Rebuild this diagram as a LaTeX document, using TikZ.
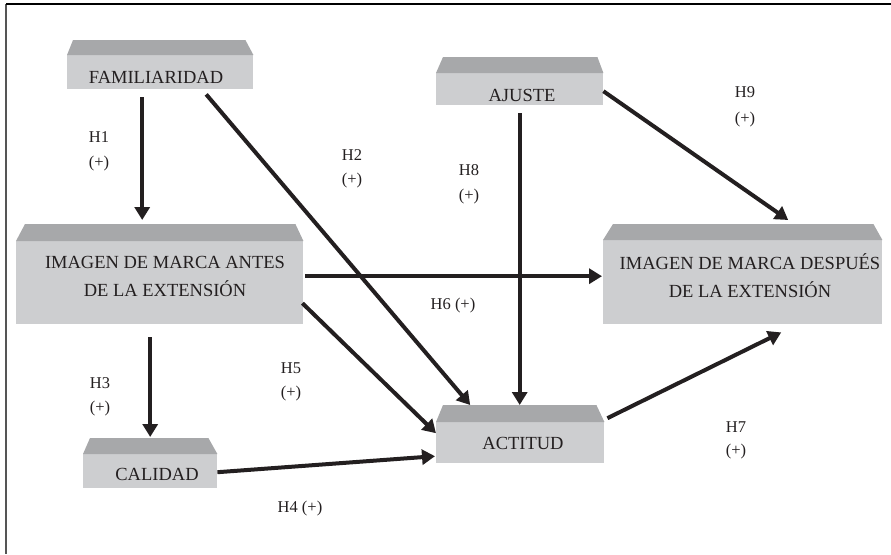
\documentclass[tikz,border=0pt]{standalone}
\usepackage{fontspec}
\setmainfont{Liberation Serif}
\usetikzlibrary{arrows.meta,calc}
\definecolor{frontgray}{HTML}{CDCED0}
\definecolor{topgray}{HTML}{A7A8AA}
\definecolor{ink}{HTML}{231F20}
\definecolor{framegray}{HTML}{555555}
\tikzset{
  front/.style={fill=frontgray, draw=none, inner sep=0pt, anchor=north west},
  boxtext/.style={text=ink, inner sep=0pt, font=\fontsize{18.5}{28}\selectfont, align=center},
  hyp/.style={text=ink, inner sep=0pt, font=\fontsize{16.5}{20}\selectfont},
  arr/.style={draw=ink, line width=4pt, -{Triangle[length=13pt,width=15pt]}},
}
\newcommand{\topbevel}[4]{%
  \fill[topgray] (#1.north west) -- ([xshift=#3pt,yshift=#2pt]#1.north west)
    -- ([xshift=-#4pt,yshift=#2pt]#1.north east) -- (#1.north east) -- cycle;}
\begin{document}
\begin{tikzpicture}[x=1pt,y=-1pt]
\useasboundingbox (0,0) rectangle (891,554);
% frame
\draw[framegray, line width=1.5pt] (6,4) -- (6,554);
\draw[black, line width=1.2pt] (6,4) -- (891,4);
% boxes
\node[front, minimum width=186pt, minimum height=34pt] (fam) at (67,55) {};
\topbevel{fam}{15}{6}{8}
\node[front, minimum width=287pt, minimum height=83pt] (antes) at (16,241) {};
\topbevel{antes}{17}{9}{8}
\node[front, minimum width=279pt, minimum height=84pt] (despues) at (603,240) {};
\topbevel{despues}{16}{10}{9}
\node[front, minimum width=167pt, minimum height=32pt] (ajuste) at (436,73) {};
\topbevel{ajuste}{16}{7}{6}
\node[front, minimum width=168pt, minimum height=41pt] (actitud) at (436,422) {};
\topbevel{actitud}{17}{7}{8}
\node[front, minimum width=134pt, minimum height=34pt] (calidad) at (83,454) {};
\topbevel{calidad}{16}{7}{9}
% box texts
\node[boxtext] (famt) at (156,77) {FAMILIARIDAD};
\node[boxtext] (antest) at (165,276) {IMAGEN DE MARCA ANTES\\DE LA EXTENSIÓN};
\node[boxtext] (despuest) at (750,276) {IMAGEN DE MARCA DESPUÉS\\DE LA EXTENSIÓN};
\node[boxtext] (ajustet) at (522,95) {AJUSTE};
\node[boxtext] (actitudt) at (523,443) {ACTITUD};
\node[boxtext] (calidadt) at (157,474) {CALIDAD};
% arrows
\draw[arr] ([xshift=-18pt,yshift=-8pt]fam.south) -- ([xshift=-17.5pt,yshift=21pt]antes.north);
\draw[arr] ([xshift=46pt,yshift=-5pt]fam.south) -- ([xshift=-50pt,yshift=17pt]actitud.north);
\draw[arr] ([yshift=-8pt]ajuste.south) -- ([xshift=-0.5pt,yshift=17pt]actitud.north);
\draw[arr] ([yshift=-2pt]ajuste.east) -- ([xshift=45.5pt,yshift=20pt]despues.north);
\draw[arr] ([xshift=2pt,yshift=6.5pt]antes.east) -- ([xshift=-1pt,yshift=6pt]despues.west);
\draw[arr] ([xshift=-1pt,yshift=-20.5pt]antes.east) -- ([yshift=9.5pt]actitud.west);
\draw[arr] ([xshift=-9.5pt,yshift=-13pt]antes.south) -- ([yshift=17pt]calidad.north);
\draw[arr] ([yshift=-1pt]calidad.east) -- ([xshift=-1pt,yshift=-13.5pt]actitud.west);
\draw[arr] ([xshift=3pt,yshift=24.5pt]actitud.east) -- ([xshift=38.5pt,yshift=-8pt]despues.south);
% hypothesis labels
\node[hyp] (h1) at (99,137) {H1};
\node[hyp] (h1s) at (99,164) {(+)};
\node[hyp] (h2) at (352,155) {H2};
\node[hyp] (h2s) at (352,181) {(+)};
\node[hyp] (h8) at (469,170) {H8};
\node[hyp] (h8s) at (469,197) {(+)};
\node[hyp] (h9) at (745,92) {H9};
\node[hyp] (h9s) at (745,120) {(+)};
\node[hyp] (h6) at (453,306) {H6 (+)};
\node[hyp] (h5) at (291,368) {H5};
\node[hyp] (h5s) at (291,394) {(+)};
\node[hyp] (h3) at (100,383) {H3};
\node[hyp] (h3s) at (100,409) {(+)};
\node[hyp] (h7) at (736,427) {H7};
\node[hyp] (h7s) at (736,452) {(+)};
\node[hyp] (h4) at (300,509) {H4 (+)};
\end{tikzpicture}
\end{document}
